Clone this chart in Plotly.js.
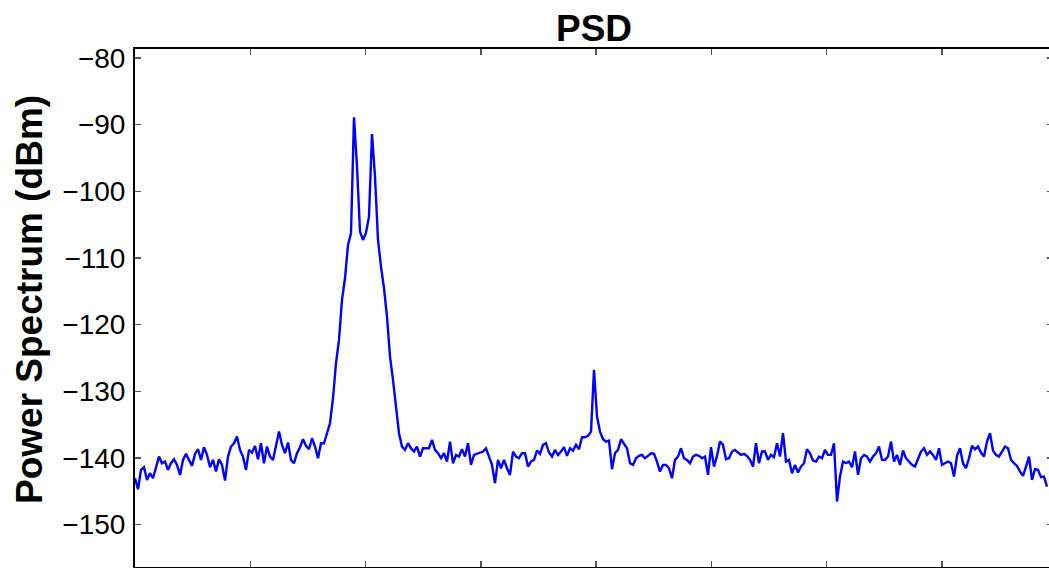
<!DOCTYPE html>
<html>
<head>
<meta charset="utf-8">
<script src="https://cdn.plot.ly/plotly-3.0.1.min.js"></script>
<style>
  html, body { margin: 0; padding: 0; overflow: hidden; background: #fff; }
  #chart { width: 1053px; height: 568px; }
</style>
</head>
<body>
<div id="chart"></div>
<script>
// PSD samples (dBm), evenly spaced sample index
const psdSeg1 = [-143.05,-144.7,-141.8,-141.4,-143.3,-142.3,-143.05,-141.55,-139.8,-140.8,
  -140.55,-141.8,-140.8,-140.2,-141.05,-142.55,-140.3,-139.4,-140.3,-141.2,
  -139.4,-138.7,-140.3,-138.4,-139.55,-141.4,-140.3,-142.05,-140.2,-141.05,
  -143.4,-139.8,-138.3,-137.8,-136.8,-138.8,-139.8,-141.8,-138.8,-139.2,
  -138.2,-140.2,-137.8,-140.8,-138.3,-139.8,-140.3,-138.2,-136.05,-138.05,
  -139.3,-137.7,-140.3,-140.8,-139.3,-138.4,-137.2,-138.2,-138.7];
const psdSeg2 = [-137.05,-138.3,-140.05,-137.8,-137.8,-136.3,-134.8,-131.05,-125.8,-122.3,
  -116.3,-113.05,-108.05,-106.3,-88.9,-96.3,-106.05,-107.3,-106.2,-103.8,
  -91.4,-97.8,-107.3,-111.3,-114.55,-118.8,-124.8,-128.3,-132.05,-136.3,
  -138.3,-138.8,-137.8,-138.55,-139.05,-138.3];
const psdSeg3 = [-139.8,-138.55,-138.55,-138.55,-137.3,-138.8,-139.3,-140.05,-139.3,-140.55,
  -137.55,-140.8,-139.55,-139.8,-138.7,-139.8,-137.8,-141.05,-139.55,-139.4,
  -139.3,-139.05,-138.55,-139.8,-141.05,-143.8,-140.3,-141.55,-140.3,-141.55,
  -142.55,-139.05,-139.8,-140.05,-139.3,-139.3,-141.3,-140.55,-140.3,-138.9,
  -139.4,-138.05,-137.8,-139.2,-139.8,-138.8,-139.55,-139.05,-138.4,-139.7,
  -138.55,-138.9,-138.05,-138.7,-136.9,-136.9,-136.7,-136.05,-126.8,-133.8,
  -136.05,-137.2,-137.55,-137.4];
const psdSeg4 = [-141.7,-139.3,-138.8,-137.2,-137.9,-138.55,-140.8,-141.05,-140.05,-139.7,
  -139.55,-140.05,-139.7,-139.3,-139.4,-140.55,-142.05,-141.05,-141.05,-141.55,
  -143.05,-140.3,-139.8,-138.55,-140.05,-140.3,-140.8,-139.8,-139.55,-139.7,
  -140.05,-139.8,-142.55,-138.4,-141.3,-139.7,-137.55,-138.05,-140.2,-140.05,
  -139.05,-138.8,-139.2,-139.55,-139.4,-139.7];
const psdSeg5 = [-140.3,-141.3,-137.8,-140.8,-139.05,-139.05,-140.3,-139.55,-139.9,-137.8,
  -139.8,-136.3,-140.55,-140.3,-142.3,-141.05,-142.2,-141.3,-140.8,-138.7,
  -139.3,-140.4,-140.55,-139.8,-140.05,-138.8,-139.55,-139.55,-137.8,-146.55,
  -142.8,-140.55,-140.8,-140.55,-141.4,-139.05,-142.55,-140.05,-139.55,-139.8,
  -140.55,-139.8,-139.3,-138.3,-140.3,-140.3,-139.8,-137.55,-140.55,-139.55];
const psdSeg6 = [-141.05,-138.9,-140.05,-140.55,-141.05,-141.3,-140.05,-139.05,-138.55,-139.55,
  -139.05,-139.55,-140.3,-138.55,-141.05,-140.8,-140.55,-140.8,-142.8,-139.7,
  -138.55,-140.8,-141.55,-140.05,-138.2,-138.7,-138.3,-139.2,-139.8,-137.55,
  -136.3,-138.9,-139.55,-139.8,-139.05,-138.3,-138.55,-140.3,-140.8,-141.2,
  -142.05,-142.7,-141.3,-139.8,-143.3,-141.7,-141.8,-142.9,-142.8,-144.3];

const psdValues = [].concat(psdSeg1, psdSeg2, psdSeg3, psdSeg4, psdSeg5, psdSeg6);
const sampleIndex = psdValues.map((_, i) => i);

const yTickVals = [-80, -90, -100, -110, -120, -130, -140, -150];

const FONT = '"Liberation Sans", Arial, Helvetica, sans-serif';

const trace = {
  x: sampleIndex,
  y: psdValues,
  type: 'scatter',
  mode: 'lines',
  line: { color: '#0000ff', width: 2.4 },
  hoverinfo: 'skip'
};

const layout = {
  width: 1053,
  height: 568,
  margin: { l: 135, r: 0, t: 49, b: 1, pad: 0 },
  paper_bgcolor: '#ffffff',
  plot_bgcolor: '#ffffff',
  showlegend: false,
  font: { family: FONT, color: '#000' },
  title: {
    text: 'PSD',
    font: { family: FONT, size: 37, weight: 'bold', color: '#000' },
    x: 0.5, xref: 'paper', xanchor: 'center',
    y: 0.95, yref: 'container', yanchor: 'middle'
  },
  xaxis: {
    range: [0, 306],
    tick0: 0,
    dtick: 38.43,
    tickmode: 'linear',
    ticks: 'inside',
    ticklen: 6,
    tickwidth: 1.5,
    tickcolor: '#555',
    showticklabels: false,
    showgrid: false,
    zeroline: false,
    showline: true,
    linecolor: '#000',
    linewidth: 2,
    mirror: 'ticks'
  },
  yaxis: {
    range: [-156.37, -78.65],
    tickmode: 'array',
    tickvals: yTickVals,
    ticks: 'inside',
    ticklen: 6,
    tickwidth: 1.5,
    tickcolor: '#555',
    tickfont: { family: FONT, size: 28, color: '#000' },
    ticklabelstandoff: 2,
    showgrid: false,
    zeroline: false,
    showline: true,
    linecolor: '#000',
    linewidth: 2,
    mirror: 'ticks'
  },
  annotations: [{
    text: 'Power Spectrum (dBm)',
    textangle: -90,
    xref: 'paper', yref: 'paper',
    x: (29 - 135) / 918, y: (567 - 300) / 518,
    xanchor: 'center', yanchor: 'middle',
    showarrow: false,
    font: { family: FONT, size: 37, weight: 'bold', color: '#000' }
  }]
};

Plotly.newPlot('chart', [trace], layout, { staticPlot: true, displayModeBar: false });
</script>
</body>
</html>
